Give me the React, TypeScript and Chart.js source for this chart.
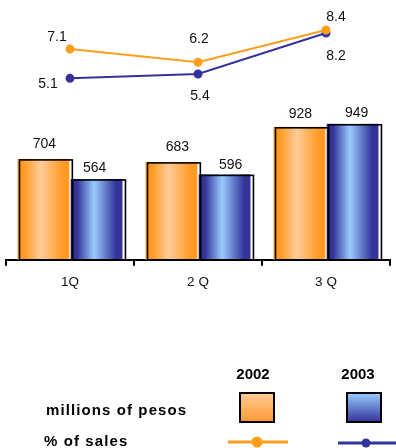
import React, { useEffect, useRef } from "react";
import { Chart, registerables } from "chart.js";

Chart.register(...registerables);

const categories = ["1Q", "2 Q", "3 Q"];
const pesos2002 = [704, 683, 928];
const pesos2003 = [564, 596, 949];
const sales2002 = [7.1, 6.2, 8.4];
const sales2003 = [5.1, 5.4, 8.2];
const years = ["2002", "2003"];
const rowLabels = ["millions of pesos", "% of sales"];

const ORANGE_DARK = "#FF9A22";
const ORANGE_LIGHT = "#FFCC99";
const BLUE_DARK = "#333399";
const BLUE_LIGHT = "#99CCFF";
const ORANGE_LINE = "#FF9E1B";
const BLUE_LINE = "#333399";
const FONT = "Liberation Sans, Arial, sans-serif";

// label offsets (pixels) relative to the mark
const barLabelOffsets = [
  [[1, -15], [6, -15], [1, -13]],
  [[-2, -11], [6, -9], [4, -11]],
];
const lineLabelOffsets = [
  [[-13, -12], [1, -23], [10, -13]],
  [[-22, 6], [2, 22], [10, 23]],
];

const barPlugin = {
  id: "cylBars",
  afterDatasetDraw(chart: any, args: any) {
    const idx = args.index;
    if (idx > 1) return;
    const ctx = chart.ctx;
    const meta = args.meta;
    const dark = idx === 0 ? ORANGE_DARK : BLUE_DARK;
    const light = idx === 0 ? ORANGE_LIGHT : BLUE_LIGHT;
    ctx.save();
    meta.data.forEach((el: any) => {
      const left = el.x - el.width / 2;
      const right = el.x + el.width / 2;
      const top = el.y;
      const bottom = el.base;
      const g = ctx.createLinearGradient(left, 0, right, 0);
      g.addColorStop(0, dark);
      g.addColorStop(0.12, dark);
      g.addColorStop(0.45, light);
      g.addColorStop(0.88, dark);
      g.addColorStop(1, dark);
      ctx.fillStyle = g;
      ctx.fillRect(left, top, right - left, bottom - top);
      ctx.strokeStyle = "#000";
      ctx.lineWidth = 1.6;
      ctx.strokeRect(left + 2, top + 1, right - left + 1, bottom - top - 1);
    });
    ctx.restore();
  },
};

const labelPlugin = {
  id: "valueLabels",
  afterDatasetsDraw(chart: any) {
    const ctx = chart.ctx;
    ctx.save();
    ctx.font = `14px ${FONT}`;
    ctx.fillStyle = "#111";
    ctx.textAlign = "center";
    ctx.textBaseline = "middle";
    [0, 1].forEach((d) => {
      const meta = chart.getDatasetMeta(d);
      const vals = d === 0 ? pesos2002 : pesos2003;
      meta.data.forEach((el: any, i: number) => {
        const o = barLabelOffsets[d][i];
        ctx.fillText(String(vals[i]), el.x + o[0], el.y + o[1]);
      });
    });
    [2, 3].forEach((d) => {
      const meta = chart.getDatasetMeta(d);
      const vals = d === 2 ? sales2002 : sales2003;
      meta.data.forEach((el: any, i: number) => {
        const o = lineLabelOffsets[d - 2][i];
        ctx.fillText(vals[i].toFixed(1), el.x + o[0], el.y + o[1]);
      });
    });
    ctx.restore();
  },
  afterDraw(chart: any) {
    const ctx = chart.ctx;
    ctx.save();
    ctx.fillStyle = "#000";
    ctx.font = `bold 15px ${FONT}`;
    ctx.textBaseline = "middle";
    ctx.textAlign = "center";
    ctx.fillText(years[0], 253, 375);
    ctx.fillText(years[1], 358, 375);
    ctx.textAlign = "left";
    (ctx as any).letterSpacing = "1.1px";
    ctx.fillText(rowLabels[0], 46, 411);
    ctx.fillText(rowLabels[1], 44, 442);
    (ctx as any).letterSpacing = "0px";
    const sq = (x: number, light: string, dark: string) => {
      const g = ctx.createLinearGradient(0, 393, 0, 422);
      g.addColorStop(0, light);
      g.addColorStop(1, dark);
      ctx.fillStyle = g;
      ctx.fillRect(x, 393, 34, 29);
      ctx.strokeStyle = "#000";
      ctx.lineWidth = 2;
      ctx.strokeRect(x, 393, 34, 29);
    };
    sq(240, ORANGE_LIGHT, "#FF9933");
    sq(347, BLUE_LIGHT, BLUE_DARK);
    const ln = (x1: number, x2: number, cx: number, y: number, r: number, c: string) => {
      ctx.strokeStyle = c;
      ctx.lineWidth = 3;
      ctx.beginPath();
      ctx.moveTo(x1, y);
      ctx.lineTo(x2, y);
      ctx.stroke();
      ctx.fillStyle = c;
      ctx.beginPath();
      ctx.arc(cx, y, r, 0, Math.PI * 2);
      ctx.fill();
    };
    ln(228, 288, 257, 442, 5.5, ORANGE_LINE);
    ln(338, 396, 366, 443, 4.5, BLUE_LINE);
    ctx.restore();
  },
};

export default function App() {
  const ref = useRef<HTMLCanvasElement>(null);
  useEffect(() => {
    document.body.style.margin = "0";
    const chart = new Chart(ref.current!, {
      type: "bar",
      data: {
        labels: categories,
        datasets: [
          { type: "bar", label: "2002", data: pesos2002, backgroundColor: "rgba(0,0,0,0)", yAxisID: "y", order: 2, categoryPercentage: 0.83, barPercentage: 0.975 } as any,
          { type: "bar", label: "2003", data: pesos2003, backgroundColor: "rgba(0,0,0,0)", yAxisID: "y", order: 2, categoryPercentage: 0.83, barPercentage: 0.975 } as any,
          { type: "line", label: "% 2002", data: sales2002, borderColor: ORANGE_LINE, backgroundColor: ORANGE_LINE, borderWidth: 2, pointRadius: 3.5, yAxisID: "y2", order: 1 } as any,
          { type: "line", label: "% 2003", data: sales2003, borderColor: BLUE_LINE, backgroundColor: BLUE_LINE, borderWidth: 2, pointRadius: 3.5, yAxisID: "y2", order: 1 } as any,
        ],
      },
      options: {
        animation: false,
        responsive: false,
        layout: { padding: { left: 6, right: 4, top: 10, bottom: 150 } },
        plugins: { legend: { display: false }, tooltip: { enabled: false } },
        scales: {
          x: {
            grid: { offset: true, drawOnChartArea: false, drawTicks: true, tickLength: 6, color: "#000", lineWidth: 2 },
            border: { display: true, color: "#000", width: 2 },
            ticks: { color: "#111", font: { family: FONT, size: 13.5 }, padding: 8 },
          },
          y: { display: false, min: 0, max: 1743 },
          y2: { display: false, min: -7.3, max: 9.77 },
        },
      },
      plugins: [barPlugin, labelPlugin],
    });
    return () => chart.destroy();
  }, []);
  return (
    <div style={{ width: 396, height: 448 }}>
      <canvas ref={ref} width={396} height={448} style={{ display: "block" }} />
    </div>
  );
}
